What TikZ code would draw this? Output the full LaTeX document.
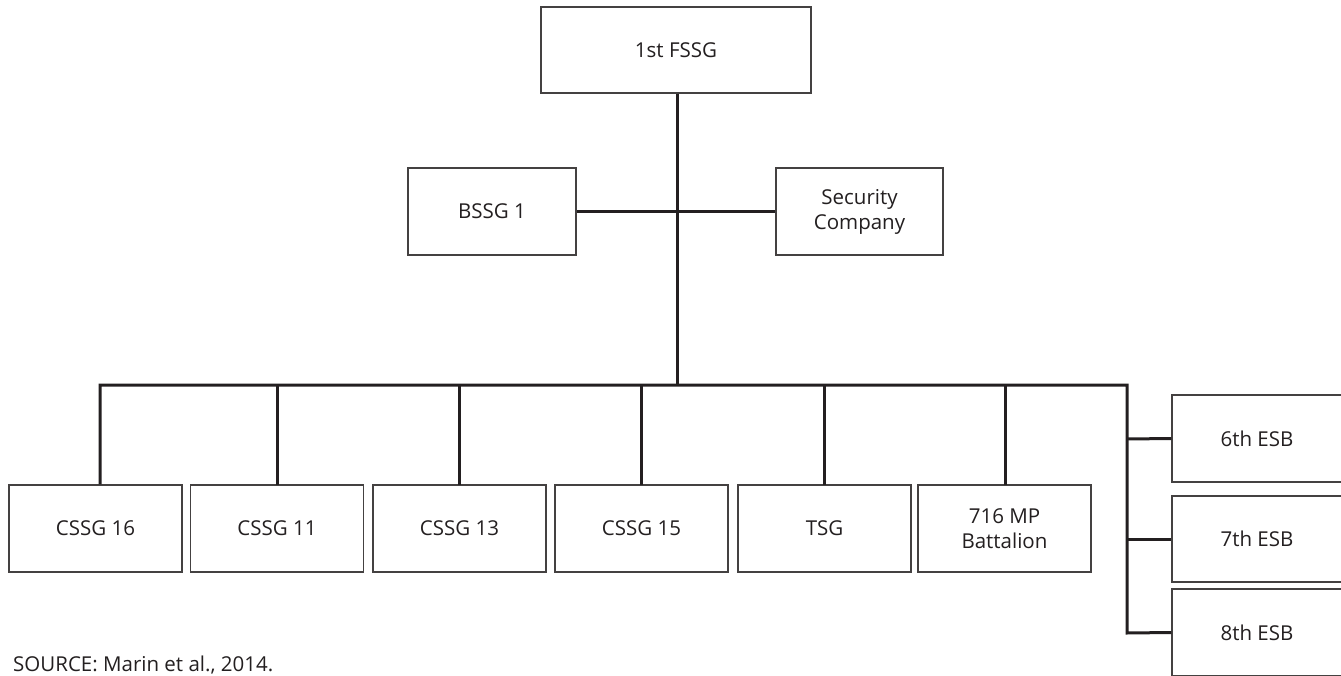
\documentclass[tikz,border=0pt]{standalone}
\usepackage{fontspec}
\setmainfont{Open Sans}
\definecolor{ink}{HTML}{231F20}
\begin{document}
\begin{tikzpicture}[x=1pt,y=-1pt,
  box/.style={draw=ink!85, line width=1.3pt, fill=white, text=ink, inner sep=0pt,
    align=center, font=\fontsize{20.5}{25}\selectfont},
  link/.style={draw=ink, line width=3pt}]
\useasboundingbox (0,0) rectangle (1341,676);
% top
\node[box, minimum width=270, minimum height=86] (top) at (676,50) {1st FSSG};
% middle
\node[box, minimum width=168, minimum height=87] (bssg) at (492,211.5) {BSSG 1};
\node[box, minimum width=167, minimum height=87] (sec) at (859.5,211.5) {Security\\Company};
% bottom row
\foreach \n/\cx/\t in {c16/95.5/CSSG 16, c11/277/CSSG 11, c13/459.5/CSSG 13, c15/641.5/CSSG 15, tsg/824.5/TSG}
  \node[box, minimum width=173, minimum height=87] (\n) at (\cx,528.5) {\t};
\node[box, minimum width=173, minimum height=87] (mp) at (1004.5,528.5) {716 MP\\Battalion};
% ESB column
\node[box, minimum width=170, minimum height=87] (e6) at (1257,438.5) {6th ESB};
\node[box, minimum width=170, minimum height=86] (e7) at (1257,539) {7th ESB};
\node[box, minimum width=170, minimum height=87] (e8) at (1257,632.5) {8th ESB};
% source
\node[anchor=base west, text=ink, inner sep=0pt, font=\fontsize{20.5}{25}\selectfont] (src) at (13,671) {SOURCE: Marin et al., 2014.};
% coordinates
\coordinate (hub) at (677,212);
\coordinate (bar) at (677,385);
\coordinate (barL) at (100,385);
\coordinate (barR) at (1127,385);
\coordinate (esbEnd) at (1127,633);
% connectors
\draw[link] (top.south -| hub) -- (bar);
\draw[link] (bssg.east) -- (sec.west);
\draw[link, line join=miter] (barL |- c16.north) -- (barL) -- (barR) -- (esbEnd) -- (e8.west);
\foreach \n/\x in {c11/277, c13/459, c15/641, tsg/824, mp/1005}
  \draw[link] (\x,385) -- (\x,485);
\draw[link] (1127,439) -- (e6.west);
\draw[link] (1127,539) -- (e7.west);
\end{tikzpicture}
\end{document}
